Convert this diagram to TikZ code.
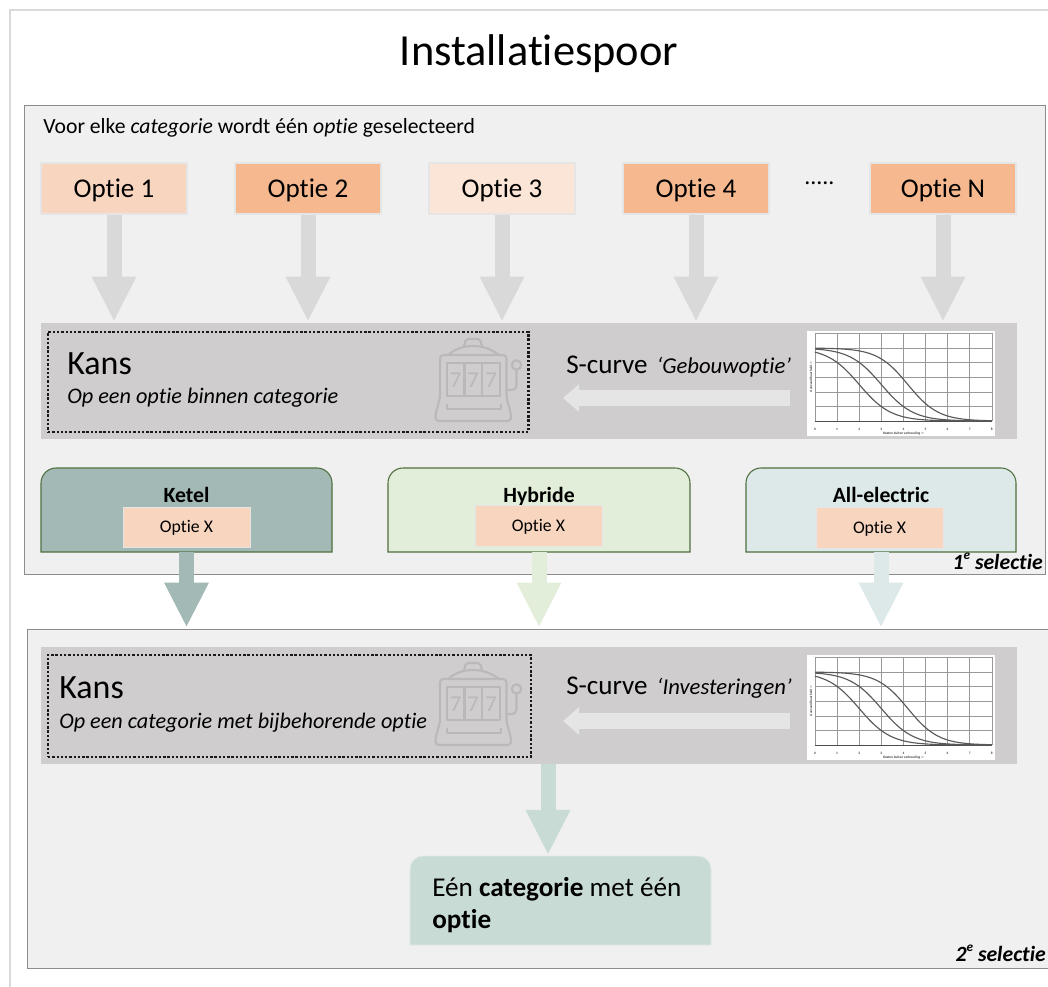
\documentclass[tikz,border=0pt]{standalone}
\usepackage{fontspec}
\setmainfont[Ligatures=NoCommon]{Carlito}
\usetikzlibrary{arrows.meta,calc}
\definecolor{panelfill}{HTML}{F0F0F0}
\definecolor{bandfill}{HTML}{CFCDCD}
\definecolor{optA}{HTML}{F8D5BF}
\definecolor{optB}{HTML}{F5B88F}
\definecolor{optC}{HTML}{FBE5D6}
\definecolor{ketelc}{HTML}{A3B9B6}
\definecolor{hybc}{HTML}{E2EED9}
\definecolor{allc}{HTML}{DDE8E8}
\definecolor{resc}{HTML}{C9DBD5}
\definecolor{slotc}{HTML}{BAB8B8}
\definecolor{grpline}{HTML}{4F7040}
\tikzset{
  x=0.75pt,y=-0.75pt,
  panelbox/.style={fill=panelfill,draw=black!45,line width=0.6pt},
  bandbox/.style={fill=bandfill},
  dotbox/.style={draw=black!90,line width=1.8pt,dash pattern=on 1.8pt off 1.4pt},
  optbox/.style={draw=black!10,line width=0.8pt,text height=15.2pt,text depth=2pt,font=\fontsize{20.3}{24}\selectfont},
  smallopt/.style={fill=optA,draw=black!10,line width=0.6pt,text height=10pt,text depth=1.3pt,font=\fontsize{13.3}{16}\selectfont},
  txt/.style={inner sep=0pt,anchor=base west},
  txtr/.style={inner sep=0pt,anchor=base east},
  grp/.style={draw=grpline,line width=0.8pt},
  grptitle/.style={inner sep=0pt,anchor=base,font=\fontsize{16.3}{19}\selectfont\bfseries},
  blockdown/.style={line width=11.25pt,draw=#1,-{Triangle[width=31pt,length=33.75pt]},shorten >=0.8pt},
  blockleft/.style={line width=12.5pt,draw=#1,-{Triangle[width=20pt,length=12pt]}},
  slotline/.style={draw=slotc,line width=1.6pt,line join=round},
}
\newcommand{\pxbox}[7]{\node[inner sep=0pt,minimum width={(#4-#2)*0.75pt},minimum height={(#5-#3)*0.75pt},#6] (#1) at ({(#2+#4)/2},{(#3+#5)/2}) {#7};}
\newcommand{\toppath}[5]{({#1},{#4}) -- ({#1},{#2+#5}) .. controls ({#1},{#2+0.45*#5}) and ({#1+0.45*#5},{#2}) .. ({#1+#5},{#2}) -- ({#3-#5},{#2}) .. controls ({#3-0.45*#5},{#2}) and ({#3},{#2+0.45*#5}) .. ({#3},{#2+#5}) -- ({#3},{#4}) -- cycle}
\newcommand{\selmark}[1]{#1\raisebox{0.42em}{\fontsize{10}{10}\selectfont e}\ selectie}
\newcommand{\chartbox}[2]{%
  \pxbox{#1}{807}{#2}{995}{#2+105}{fill=white}{}
  \begin{scope}[shift={(807,#2)}]
    \foreach \i in {0,...,8} \draw[black!40,line width=0.45pt] ({8+22.1*\i},2) -- ({8+22.1*\i},90);
    \foreach \j in {2,17,31.6,46.2,60.8,75.4} \draw[black!40,line width=0.45pt] (8,\j) -- (185,\j);
    \draw[black!70,line width=0.7pt] (8,90) -- (185,90);
    \foreach \k/\xo in {1.4/2,1.4/3,1.45/4.2}
      \draw[black!65,line width=0.85pt] plot[domain=0:8,samples=50,smooth] ({8+22.1*\x},{17+73*(1-1/(1+exp(\k*(\x-\xo))))});
    \foreach \i in {0,...,8} \node[inner sep=0pt,font=\fontsize{2.6}{3}\selectfont\bfseries,text=black!75] at ({8+22.1*\i},98) {\i};
    \node[inner sep=0pt,font=\fontsize{2.6}{3}\selectfont\bfseries,text=black!75] at (96.5,102.5) {Kosten buiten verhouding ->};
    \node[inner sep=0pt,font=\fontsize{2.6}{3}\selectfont\bfseries,text=black!75,rotate=90] at (4,46) {Aanvaardbaarheid ->};
  \end{scope}}
\newcommand{\slotmachine}[1]{%
  \begin{scope}[shift={(0,#1)}]
    \draw[slotline,rounded corners=1.5pt] (464,346) -- (466,339) -- (480,339) -- (482,346);
    \draw[slotline] (448,355) .. controls (455,349) and (463,346) .. (473,346) .. controls (483,346) and (491,349) .. (499,355);
    \draw[slotline,rounded corners=2.5pt] (440,355) -- (440,398) -- (435.5,414) -- (435.5,421) -- (511,421) -- (511,414) -- (506.5,398) -- (506.5,355) -- cycle;
    \draw[slotline] (447,363) rectangle (500,396);
    \draw[slotline] (464.5,363) -- (464.5,396) (482,363) -- (482,396);
    \foreach \xx in {455.5,473,491} \node[inner sep=0pt,text=slotc,font=\fontsize{17}{20}\selectfont] at (\xx,380) {7};
    \draw[slotline] (447,404) -- (447,409) -- (501,409) -- (501,404);
    \draw[slotline] (516.5,365) circle (4.7);
    \draw[slotline] (516.5,370) -- (516.5,385) .. controls (516.5,388) and (515,390) .. (512,390) -- (506.5,390);
  \end{scope}}
\begin{document}
\begin{tikzpicture}
\useasboundingbox (0,0) rectangle (1048,987);
\clip (0,0) rectangle (1048,987);
\fill[white] (0,0) rectangle (1048,987);
\draw[black!15,line width=1.8pt] (10,987) -- (10,10) -- (1048,10);
\node[inner sep=0pt,anchor=base,font=\fontsize{33.3}{38}\selectfont] (title) at (539,66) {Installatiespoor};
% panels
\pxbox{panelA}{24}{105}{1045}{574}{panelbox}{}
\pxbox{panelB}{27}{629}{1056}{968}{panelbox}{}
\node[txt,font=\fontsize{16.25}{19}\selectfont] (intro) at (43,134) {Voor elke \textit{categorie} wordt één \textit{optie} geselecteerd};
% options
\pxbox{o1}{41}{163}{187}{214}{optbox,fill=optA}{Optie 1}
\pxbox{o2}{235}{163}{381}{214}{optbox,fill=optB}{Optie 2}
\pxbox{o3}{429}{163}{575}{214}{optbox,fill=optC}{Optie 3}
\pxbox{o4}{623}{163}{769}{214}{optbox,fill=optB}{Optie 4}
\pxbox{oN}{870}{163}{1016}{214}{optbox,fill=optB}{Optie N}
\node[txt,font=\fontsize{18}{22}\selectfont] (dots) at (804,185) {.....};
% band 1
\pxbox{bandA}{41}{323}{1017}{439}{bandbox}{}
\foreach \n in {o1,o2,o3,o4,oN}
  \draw[blockdown=black!15] (\n.south) -- (\n.south |- bandA.north);
\pxbox{dotA}{48}{332}{528.5}{432}{dotbox}{}
\slotmachine{0}
\node[txt,font=\fontsize{25.5}{30}\selectfont] (kansA) at (67,374) {Kans};
\node[txt] (kansAs) at (67,403) {\fontsize{16.7}{19}\selectfont\itshape Op een optie binnen categorie};
\node[txt,font=\fontsize{20.3}{24}\selectfont] (scA) at (566,373) {S-curve\hspace{7pt}{\fontsize{17}{20}\selectfont\itshape ‘Gebouwoptie’}};
\chartbox{chartA}{331}
\coordinate (arrAs) at (790,398);
\coordinate (arrAe) at (563,398);
\draw[blockleft=black!10] (arrAs) -- (arrAe);
% groups
\draw[grp,fill=ketelc] \toppath{41}{468}{332}{552}{15};
\draw[grp,fill=hybc] \toppath{388}{468}{690}{552}{15};
\draw[grp,fill=allc] \toppath{746}{468}{1016}{552}{15};
\pxbox{ketel}{41}{468}{332}{552}{}{}
\pxbox{hybride}{388}{468}{690}{552}{}{}
\pxbox{allel}{746}{468}{1016}{552}{}{}
\node[grptitle] (ketelT) at (186.5,502) {Ketel};
\node[grptitle] (hybT) at (539,502) {Hybride};
\node[grptitle] (allT) at (881,502) {All-electric};
\pxbox{xA}{123}{507}{250}{547}{smallopt}{Optie X}
\pxbox{xB}{475}{505}{602}{546}{smallopt}{Optie X}
\pxbox{xC}{816}{507}{943}{548}{smallopt}{Optie X}
\node[txtr,font=\fontsize{16.3}{19}\selectfont\bfseries\itshape] (selA) at (1043,569) {\selmark{1}};
\draw[blockdown=ketelc] (ketel.south) -- (ketel.south |- panelB.north);
\draw[blockdown=hybc] (hybride.south) -- (hybride.south |- panelB.north);
\draw[blockdown=allc] (allel.south) -- (allel.south |- panelB.north);
% band 2
\pxbox{bandB}{41}{647}{1017}{764}{bandbox}{}
\pxbox{dotB}{48}{655}{531}{757}{dotbox}{}
\slotmachine{324}
\node[txt,font=\fontsize{25.5}{30}\selectfont] (kansB) at (59,698) {Kans};
\node[txt] (kansBs) at (59,728) {\fontsize{16.65}{19}\selectfont\itshape Op een categorie met bijbehorende optie};
\node[txt,font=\fontsize{20.3}{24}\selectfont] (scB) at (566,694) {S-curve\hspace{7pt}{\fontsize{17}{20}\selectfont\itshape ‘Investeringen’}};
\chartbox{chartB}{655}
\coordinate (arrBs) at (790,721);
\coordinate (arrBe) at (563,721);
\draw[blockleft=black!10] (arrBs) -- (arrBe);
% result
\draw[fill=resc,draw=allc,line width=0.6pt] \toppath{410}{856}{711}{945}{13};
\pxbox{result}{410}{856}{711}{945}{}{}
\coordinate (downB) at (548,856);
\draw[blockdown=resc] (downB |- bandB.south) -- (downB);
\node[txt,font=\fontsize{20.4}{24}\selectfont] (resT) at (432,896) {Eén \textbf{categorie} met één};
\node[txt,font=\fontsize{20.4}{24}\selectfont] (resU) at (432,928) {\textbf{optie}};
\node[txtr,font=\fontsize{16.3}{19}\selectfont\bfseries\itshape] (selB) at (1046,961) {\selmark{2}};
\end{tikzpicture}
\end{document}
